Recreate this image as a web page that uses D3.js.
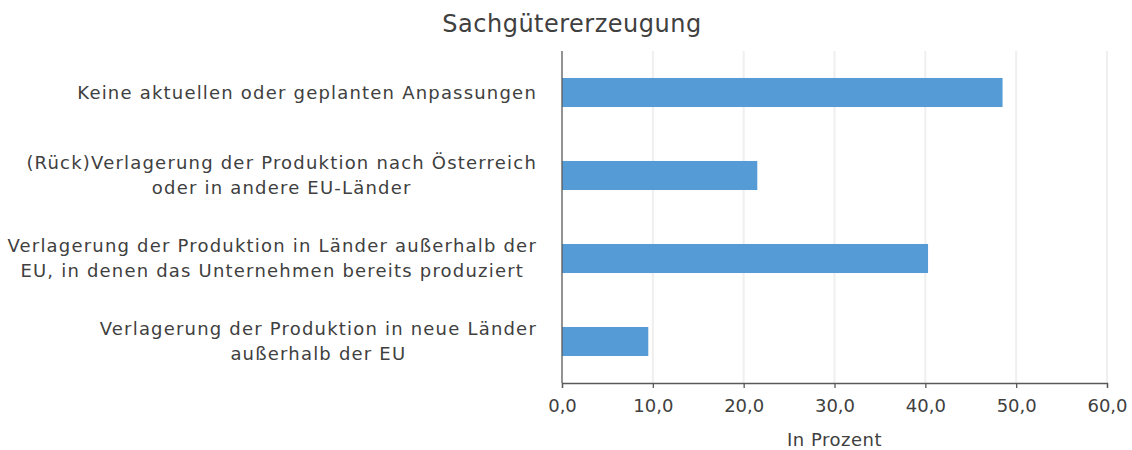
<!DOCTYPE html>
<html>
<head>
<meta charset="utf-8">
<script src="https://cdn.jsdelivr.net/npm/d3@7"></script>
<style>
  body { margin: 0; background: #fff; }
  #chart { width: 1132px; height: 450px; }
  text { font-family: "DejaVu Sans", sans-serif; fill: #404040; }
</style>
</head>
<body>
<div id="chart"></div>
<script>
// Kategorien (Zeilen des Labels getrennt)
const categories = [
  ['Keine aktuellen oder geplanten Anpassungen'],
  ['(Rück)Verlagerung der Produktion nach Österreich', 'oder in andere EU-Länder'],
  ['Verlagerung der Produktion in Länder außerhalb der', 'EU, in denen das Unternehmen bereits produziert'],
  ['Verlagerung der Produktion in neue Länder', 'außerhalb der EU']
];
// Werte in Prozent
const values = [48.5, 21.5, 40.3, 9.5];
const xTicks = [0, 10, 20, 30, 40, 50, 60];
const title = 'Sachgütererzeugung';
const xTitle = 'In Prozent';

const width = 1132, height = 450;
const margin = { top: 51, right: 25, bottom: 67, left: 562 };
const innerWidth = width - margin.left - margin.right;
const innerHeight = height - margin.top - margin.bottom;

const svg = d3.select('#chart').append('svg')
  .attr('width', width)
  .attr('height', height);

const mg = svg.append('g')
  .attr('transform', `translate(${margin.left},${margin.top})`);

const keys = categories.map((d, i) => i);
const yScale = d3.scaleBand().domain(keys).range([0, innerHeight]).paddingInner(0.65).paddingOuter(0.325);
const xScale = d3.scaleLinear().domain([0, 60]).range([0, innerWidth]);

const locale = d3.formatLocale({ decimal: ',', thousands: '.', grouping: [3], currency: ['', '€'] });
const fmt = locale.format('.1f');

// Gitterlinien
mg.append('g').selectAll('line')
  .data(xTicks.filter(d => d > 0))
  .join('line')
  .attr('x1', d => xScale(d)).attr('x2', d => xScale(d))
  .attr('y1', 0).attr('y2', innerHeight)
  .attr('stroke', '#efefef')
  .attr('stroke-width', 2);

// Balken
mg.append('g').selectAll('rect')
  .data(values)
  .join('rect')
  .attr('x', 0)
  .attr('y', (d, i) => yScale(i))
  .attr('width', d => xScale(d))
  .attr('height', yScale.bandwidth())
  .attr('fill', '#559bd5');

// x-Achse
const xAxis = mg.append('g')
  .attr('transform', `translate(0,${innerHeight})`)
  .call(d3.axisBottom(xScale).tickValues(xTicks).tickFormat(fmt).tickSizeInner(5).tickSizeOuter(5).tickPadding(11));
xAxis.select('.domain').attr('stroke', '#595959').attr('stroke-width', 1.3);
xAxis.selectAll('.tick line').attr('stroke', '#595959').attr('stroke-width', 1.3);
xAxis.selectAll('.tick text')
  .attr('font-size', '18px')
  .attr('font-family', '"DejaVu Sans", sans-serif')
  .attr('fill', '#404040');

// y-Achse (nur Linie)
mg.append('line')
  .attr('x1', 0).attr('x2', 0)
  .attr('y1', 0).attr('y2', innerHeight)
  .attr('stroke', '#595959')
  .attr('stroke-width', 1.3);

// Kategorie-Labels, mehrzeilig zentriert
const labelRight = -25;
const lineH = 25;
const labels = mg.append('g');
categories.forEach((lines, i) => {
  const g = labels.append('g');
  const cy = yScale(i) + yScale.bandwidth() / 2;
  const t = g.selectAll('text')
    .data(lines)
    .join('text')
    .attr('text-anchor', 'middle')
    .attr('dy', '0.36em')
    .attr('font-size', '18px')
    .attr('letter-spacing', '1.2px')
    .attr('y', (d, j) => cy + (j - (lines.length - 1) / 2) * lineH)
    .text(d => d);
  let maxW = 0;
  t.each(function () { maxW = Math.max(maxW, this.getComputedTextLength()); });
  t.attr('x', labelRight - maxW / 2);
});

// Titel
svg.append('text')
  .attr('x', 572)
  .attr('y', 32)
  .attr('text-anchor', 'middle')
  .attr('font-size', '24px')
  .attr('letter-spacing', '0.5px')
  .text(title);

// Achsentitel
svg.append('text')
  .attr('x', margin.left + innerWidth / 2)
  .attr('y', 446)
  .attr('text-anchor', 'middle')
  .attr('font-size', '18px')
  .attr('letter-spacing', '0.5px')
  .text(xTitle);
</script>
</body>
</html>
